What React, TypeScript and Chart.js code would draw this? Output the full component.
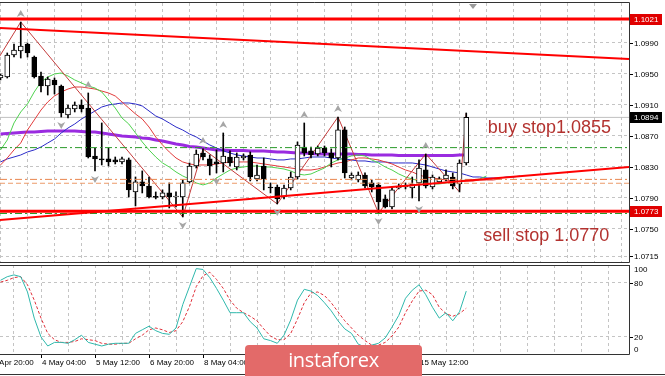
import { useEffect, useRef } from 'react';
import { Chart, registerables } from 'chart.js';

Chart.register(...registerables);

// ---------- data (H4 bars, index 0 = 4 May 04:00) ----------
const FIRST_BAR = -6;

const opens = [
  1.09448, 1.09461, 1.09745, 1.09797, 1.09887, 1.09719, 1.09474, 1.09345, 1.09423, 1.09345,
  1.08971, 1.09048, 1.09100, 1.09061, 1.08442, 1.08404, 1.08404, 1.08391, 1.08365, 1.08391,
  1.07978, 1.08107, 1.08055, 1.07913, 1.07913, 1.07965, 1.07913, 1.07913, 1.08107, 1.08313,
  1.08481, 1.08404, 1.08365, 1.08352, 1.08429, 1.08300, 1.08416, 1.08455, 1.08146, 1.08313,
  1.08042, 1.08042, 1.07913, 1.08029, 1.08171, 1.08558, 1.08507, 1.08468, 1.08545, 1.08481,
  1.08416, 1.08778, 1.08158, 1.08133, 1.08197, 1.08094, 1.08068, 1.07888, 1.07784, 1.08029,
  1.08042, 1.08029, 1.08094, 1.08262, 1.08042, 1.08107, 1.08146, 1.08171, 1.08081, 1.08352,
];
const highs = [
  1.09500, 1.09771, 1.09887, 1.10171, 1.09900, 1.09732, 1.09526, 1.09461, 1.09448, 1.09358,
  1.09100, 1.09139, 1.09165, 1.09255, 1.08545, 1.08868, 1.08545, 1.08429, 1.08429, 1.08416,
  1.08171, 1.08249, 1.08171, 1.07978, 1.08004, 1.08094, 1.07978, 1.08133, 1.08352, 1.08520,
  1.08533, 1.08455, 1.08520, 1.08739, 1.08507, 1.08481, 1.08468, 1.08494, 1.08326, 1.08416,
  1.08094, 1.08068, 1.08068, 1.08236, 1.08623, 1.08868, 1.08558, 1.08571, 1.08571, 1.08533,
  1.08945, 1.08816, 1.08223, 1.08236, 1.08223, 1.08133, 1.08094, 1.07939, 1.08042, 1.08081,
  1.08094, 1.08171, 1.08391, 1.08468, 1.08197, 1.08171, 1.08262, 1.08223, 1.08391, 1.08997,
];
const lows = [
  1.09423, 1.09448, 1.09719, 1.09706, 1.09719, 1.09448, 1.09268, 1.09229, 1.09242, 1.08945,
  1.08932, 1.09010, 1.09010, 1.08416, 1.08249, 1.08326, 1.08313, 1.08339, 1.08339, 1.07913,
  1.07797, 1.07965, 1.07900, 1.07888, 1.07888, 1.07771, 1.07784, 1.07655, 1.08094, 1.08287,
  1.08391, 1.08197, 1.08223, 1.08236, 1.08313, 1.08262, 1.08391, 1.08120, 1.08120, 1.08004,
  1.07965, 1.07823, 1.07888, 1.08004, 1.08146, 1.08442, 1.08416, 1.08442, 1.08442, 1.08300,
  1.08391, 1.08158, 1.08133, 1.08107, 1.08029, 1.07978, 1.07707, 1.07771, 1.07758, 1.08017,
  1.08017, 1.07900, 1.07862, 1.08029, 1.08017, 1.08094, 1.08120, 1.08017, 1.07978, 1.08326,
];
const closes = [
  1.09487, 1.09745, 1.09810, 1.09861, 1.09771, 1.09461, 1.09345, 1.09435, 1.09358, 1.08997,
  1.09061, 1.09100, 1.09048, 1.08429, 1.08404, 1.08391, 1.08365, 1.08365, 1.08404, 1.08004,
  1.08107, 1.08055, 1.07913, 1.07907, 1.07965, 1.07913, 1.07926, 1.08094, 1.08313, 1.08468,
  1.08429, 1.08313, 1.08339, 1.08442, 1.08352, 1.08429, 1.08442, 1.08171, 1.08197, 1.08146,
  1.08029, 1.07888, 1.08029, 1.08171, 1.08584, 1.08481, 1.08455, 1.08545, 1.08481, 1.08416,
  1.08778, 1.08223, 1.08197, 1.08197, 1.08055, 1.08042, 1.07849, 1.07784, 1.08004, 1.08042,
  1.08055, 1.08081, 1.08287, 1.08055, 1.08171, 1.08146, 1.08197, 1.08055, 1.08352, 1.08940,
];

// slow moving average (purple)
const smaPurple = [
  1.08726, 1.08732, 1.08739, 1.08745, 1.08752, 1.08752, 1.08758, 1.08765, 1.08765, 1.08765,
  1.08765, 1.08765, 1.08758, 1.08752, 1.08752, 1.08739, 1.08726, 1.08713, 1.08700, 1.08694,
  1.08687, 1.08674, 1.08668, 1.08648, 1.08635, 1.08616, 1.08597, 1.08584, 1.08565, 1.08558,
  1.08545, 1.08532, 1.08520, 1.08520, 1.08513, 1.08513, 1.08513, 1.08506, 1.08506, 1.08506,
  1.08500, 1.08494, 1.08494, 1.08487, 1.08481, 1.08481, 1.08474, 1.08468, 1.08468, 1.08468,
  1.08468, 1.08468, 1.08468, 1.08461, 1.08461, 1.08455, 1.08455, 1.08455, 1.08455, 1.08448,
  1.08448, 1.08448, 1.08448, 1.08448, 1.08448, 1.08448, 1.08448, 1.08448, 1.08455, 1.08455,
];
// Alligator jaw (blue), bars -6 .. 71
const jawBlue = [
  1.08365, 1.08404, 1.08429, 1.08455, 1.08494, 1.08520, 1.08558, 1.08610, 1.08661, 1.08739,
  1.08803, 1.08855, 1.08919, 1.08971, 1.09023, 1.09074, 1.09100, 1.09113, 1.09126, 1.09126,
  1.09113, 1.09087, 1.09023, 1.08958, 1.08919, 1.08868, 1.08816, 1.08777, 1.08726, 1.08687,
  1.08635, 1.08584, 1.08545, 1.08507, 1.08481, 1.08455, 1.08442, 1.08429, 1.08416, 1.08416,
  1.08404, 1.08391, 1.08391, 1.08404, 1.08404, 1.08416, 1.08429, 1.08429, 1.08429, 1.08416,
  1.08404, 1.08404, 1.08391, 1.08378, 1.08378, 1.08365, 1.08365, 1.08365, 1.08352, 1.08352,
  1.08352, 1.08352, 1.08339, 1.08326, 1.08300, 1.08274, 1.08249, 1.08236, 1.08223, 1.08197,
  1.08171, 1.08171, 1.08158, 1.08158, 1.08158, 1.08171, 1.08171, 1.08184,
];
// Alligator teeth (red), bars -6 .. 68
const teethRed = [
  1.08326, 1.08416, 1.08520, 1.08610, 1.08777, 1.08906, 1.09035, 1.09139, 1.09216, 1.09268,
  1.09306, 1.09332, 1.09332, 1.09319, 1.09306, 1.09280, 1.09255, 1.09216, 1.09139, 1.09061,
  1.08984, 1.08919, 1.08816, 1.08687, 1.08584, 1.08494, 1.08416, 1.08365, 1.08339, 1.08326,
  1.08326, 1.08326, 1.08339, 1.08352, 1.08365, 1.08365, 1.08365, 1.08365, 1.08352, 1.08339,
  1.08326, 1.08313, 1.08300, 1.08287, 1.08274, 1.08261, 1.08261, 1.08274, 1.08300, 1.08326,
  1.08352, 1.08365, 1.08391, 1.08416, 1.08416, 1.08404, 1.08391, 1.08365, 1.08339, 1.08300,
  1.08261, 1.08236, 1.08197, 1.08171, 1.08158, 1.08145, 1.08132, 1.08119, 1.08119, 1.08119,
  1.08119, 1.08132, 1.08132, 1.08132, 1.08145,
];
// Alligator lips (green), bars -6 .. 66
const lipsGreen = [
  1.08519, 1.08648, 1.08868, 1.09010, 1.09113, 1.09268, 1.09397, 1.09461, 1.09500, 1.09513,
  1.09474, 1.09423, 1.09384, 1.09345, 1.09319, 1.09268, 1.09165, 1.09061, 1.08932, 1.08855,
  1.08739, 1.08623, 1.08520, 1.08429, 1.08352, 1.08300, 1.08236, 1.08184, 1.08145, 1.08094,
  1.08068, 1.08094, 1.08158, 1.08210, 1.08261, 1.08287, 1.08300, 1.08313, 1.08313, 1.08300,
  1.08300, 1.08287, 1.08274, 1.08249, 1.08210, 1.08197, 1.08210, 1.08249, 1.08287, 1.08352,
  1.08391, 1.08416, 1.08442, 1.08455, 1.08442, 1.08391, 1.08352, 1.08300, 1.08261, 1.08210,
  1.08171, 1.08145, 1.08119, 1.08094, 1.08081, 1.08081, 1.08094, 1.08107, 1.08119, 1.08132,
  1.08132, 1.08145, 1.08184,
];

const zigzagBars = [-10, -3, 21, 24, 35, 44, 50, 57, 62, 63];
const zigzagPrices = [1.0918, 1.10171, 1.07655, 1.08533, 1.07823, 1.08945, 1.07707, 1.08468, 1.07978, 1.08997];

const fractalUpBars = [-3, 7, 24, 27, 39, 44, 57];
const fractalDownBars = [3, 8, 21, 26, 35, 50, 56];

const stochMain = [
  83, 87, 89, 87, 70, 41, 20, 10, 14, 14,
  13, 17, 22, 14, 12, 10, 12, 13, 13, 13,
  24, 28, 32, 27, 24, 23, 30, 56, 76, 96,
  95, 86, 74, 61, 47, 47, 47, 37, 30, 18,
  16, 13, 22, 39, 61, 73, 71, 66, 58, 49,
  38, 29, 24, 12, 9, 11, 13, 19, 31, 44,
  63, 72, 78, 67, 53, 41, 47, 38, 48, 71,
];
const stochSignal = [
  81, 83, 86, 87, 78, 61, 41, 24, 17, 14,
  14, 15, 18, 17, 16, 13, 12, 12, 13, 13,
  18, 22, 28, 30, 28, 25, 27, 37, 54, 76,
  88, 92, 84, 74, 61, 52, 47, 43, 38, 29,
  21, 17, 17, 24, 40, 58, 69, 70, 66, 58,
  48, 38, 30, 22, 16, 11, 11, 14, 21, 31,
  47, 60, 71, 72, 67, 53, 46, 43, 46, 52,
];

// levels and trend lines
const resistanceLevel = 1.1021;
const supportLevel = 1.0773;
const bidPrice = 1.0894;
const buyStopLevel = 1.0855;
const sellStopLevel = 1.0770;
const orangeLevels = [1.0814, 1.0809];
const upperTrendBars = [-6.074, 87.11];
const upperTrendPrices = [1.10094, 1.09694];
const lowerTrendBars = [-6.074, 87.11];
const lowerTrendPrices = [1.07616, 1.0830];

// axis labels
const priceTicks = [1.099, 1.095, 1.091, 1.087, 1.083, 1.079, 1.075, 1.0715];
const stochGridTicks = [80, 20];
const dateBars = [-8, 0, 8, 16, 24, 32, 40, 48, 56];
const dateLabels = ['30 Apr 20:00', '4 May 04:00', '5 May 12:00', '6 May 20:00', '8 May 04:00', '11 May 12:00', '12 May 20:00', '14 May 04:00', '15 May 12:00'];

// text annotations (bar, baseline price)
const buyText = 'buy stop1.0855';
const buyTextBar = 66.2;
const buyTextPrice = 1.08739;
const sellText = 'sell stop 1.0770';
const sellTextBar = 65.5;
const sellTextPrice = 1.07345;
const shiftMarkerBar = 64;

// ---------- view ----------
const X_MIN = -6.074;
const X_MAX = 87.11;
const MAIN_MIN = 1.07074;
const MAIN_MAX = 1.10416;
const xGridBars = Array.from({ length: 23 }, (_, k) => -4 + 4 * k);
const AXIS_FONT = '8px "Liberation Sans", Arial, sans-serif';

const toPts = (arr: number[]) => arr.map((v, k) => ({ x: FIRST_BAR + k, y: v }));
const pairPts = (bars: number[], vals: number[]) => bars.map((b, k) => ({ x: b, y: vals[k] }));
const hPts = (v: number) => [{ x: X_MIN, y: v }, { x: X_MAX, y: v }];

const lineDs = (data: any[], color: string, width: number, order: number, dash: number[] = []) => ({
  type: 'line',
  data,
  borderColor: color,
  borderWidth: width,
  borderDash: dash,
  pointRadius: 0,
  tension: 0,
  fill: false,
  order,
});

const xScale = () => ({
  type: 'linear',
  min: X_MIN,
  max: X_MAX,
  offset: false,
  afterBuildTicks: (ax: any) => {
    ax.ticks = xGridBars.map((v) => ({ value: v }));
  },
  afterFit: (s: any) => {
    s.height = 0;
  },
  ticks: { display: false },
  grid: { color: '#c4c4c4', lineWidth: 1, drawTicks: false },
  border: { display: false, dash: [3, 3] },
});

export default function App() {
  const mainRef = useRef<HTMLCanvasElement>(null);
  const stochRef = useRef<HTMLCanvasElement>(null);

  useEffect(() => {
    const bodyColors = opens.map((o, k) => (closes[k] - o > 0.00008 ? '#ffffff' : '#000000'));

    const mainPlugin = {
      id: 'mainDecor',
      afterDraw(chart: any) {
        const { ctx, chartArea: a, scales } = chart;
        const x = scales.x;
        const y = scales.y;
        ctx.save();
        // fractal arrows
        const arrow = (cx: number, cy: number, up: boolean) => {
          ctx.beginPath();
          if (up) {
            ctx.moveTo(cx, cy - 4);
            ctx.lineTo(cx + 4, cy + 3);
            ctx.lineTo(cx, cy + 1);
            ctx.lineTo(cx - 4, cy + 3);
          } else {
            ctx.moveTo(cx, cy + 4);
            ctx.lineTo(cx + 4, cy - 3);
            ctx.lineTo(cx, cy - 1);
            ctx.lineTo(cx - 4, cy - 3);
          }
          ctx.closePath();
          ctx.fillStyle = '#a6a6a6';
          ctx.fill();
        };
        fractalUpBars.forEach((b) => arrow(x.getPixelForValue(b), y.getPixelForValue(highs[b - FIRST_BAR]) - 8, true));
        fractalDownBars.forEach((b) => arrow(x.getPixelForValue(b), y.getPixelForValue(lows[b - FIRST_BAR]) + 8, false));

        // shift marker
        const sx = x.getPixelForValue(shiftMarkerBar);
        ctx.beginPath();
        ctx.moveTo(sx - 4, a.top + 1);
        ctx.lineTo(sx + 4, a.top + 1);
        ctx.lineTo(sx, a.top + 6);
        ctx.closePath();
        ctx.fillStyle = '#9a9a9a';
        ctx.fill();

        // text annotations
        ctx.font = '18px "Liberation Sans", Arial, sans-serif';
        ctx.fillStyle = '#b3322f';
        ctx.textBaseline = 'alphabetic';
        ctx.textAlign = 'left';
        ctx.fillText(buyText, x.getPixelForValue(buyTextBar), y.getPixelForValue(buyTextPrice));
        ctx.fillText(sellText, x.getPixelForValue(sellTextBar), y.getPixelForValue(sellTextPrice));

        // borders
        ctx.strokeStyle = '#333333';
        ctx.lineWidth = 1;
        ctx.beginPath();
        ctx.moveTo(0, a.top - 0.5);
        ctx.lineTo(a.right + 0.5, a.top - 0.5);
        ctx.moveTo(a.right + 0.5, a.top - 0.5);
        ctx.lineTo(a.right + 0.5, a.bottom + 0.5);
        ctx.moveTo(0, a.bottom + 0.5);
        ctx.lineTo(a.right + 0.5, a.bottom + 0.5);
        ctx.stroke();

        // price axis
        ctx.font = AXIS_FONT;
        ctx.textBaseline = 'middle';
        ctx.fillStyle = '#000000';
        priceTicks.forEach((t) => {
          const py = Math.round(y.getPixelForValue(t));
          ctx.fillRect(a.right + 1, py, 3, 1);
          ctx.fillText(t.toFixed(4), a.right + 5, py + 0.5);
        });
        const box = (v: number, bg: string) => {
          const py = Math.round(y.getPixelForValue(v));
          ctx.fillStyle = bg;
          ctx.fillRect(a.right + 1, py - 5, 32, 11);
          ctx.fillStyle = '#ffffff';
          ctx.fillText(v.toFixed(4), a.right + 5, py + 0.5);
        };
        box(resistanceLevel, '#e00000');
        box(bidPrice, '#000000');
        box(supportLevel, '#e00000');
        ctx.restore();
      },
    };

    const main = new Chart(mainRef.current as HTMLCanvasElement, {
      type: 'line',
      data: {
        datasets: [
          lineDs(pairPts(upperTrendBars, upperTrendPrices), '#ff0000', 2, 0),
          lineDs(pairPts(lowerTrendBars, lowerTrendPrices), '#ff0000', 2, 0),
          lineDs(hPts(resistanceLevel), '#ff0000', 3, 0),
          lineDs(hPts(supportLevel), '#ff0000', 3, 0),
          lineDs(hPts(buyStopLevel), '#2a9a2a', 1, 1, [7, 3, 2, 3]),
          lineDs(hPts(sellStopLevel), '#2a9a2a', 1, 1, [7, 3, 2, 3]),
          lineDs(hPts(orangeLevels[0]), '#e9864e', 1, 1, [7, 3, 2, 3]),
          lineDs(hPts(orangeLevels[1]), '#ec9a6a', 1, 1, [5, 3]),
          {
            type: 'bar',
            data: opens.map((o, k) => ({ x: FIRST_BAR + k, y: [o, closes[k]] })),
            backgroundColor: bodyColors,
            borderColor: '#000000',
            borderWidth: 1,
            borderSkipped: false,
            barThickness: 5,
            minBarLength: 1,
            grouped: false,
            order: 3,
          },
          {
            type: 'bar',
            data: lows.map((l, k) => ({ x: FIRST_BAR + k, y: [l, highs[k]] })),
            backgroundColor: '#000000',
            borderWidth: 0,
            barThickness: 1,
            grouped: false,
            order: 4,
          },
          lineDs(pairPts(zigzagBars, zigzagPrices), '#c43c3c', 1, 5),
          lineDs(toPts(lipsGreen), '#4fd24f', 1, 6),
          lineDs(toPts(teethRed), '#e23c3c', 1, 7),
          lineDs(toPts(jawBlue), '#2b2bc8', 1, 8),
          lineDs(toPts(smaPurple), '#9a2be0', 3, 9),
          lineDs(hPts(bidPrice), '#c0c0c0', 1, 10),
        ],
      } as any,
      options: {
        responsive: false,
        animation: false,
        devicePixelRatio: 1,
        events: [],
        layout: { padding: { top: 3, bottom: 2, left: 0, right: 0 } },
        plugins: { legend: { display: false }, tooltip: { enabled: false } },
        scales: {
          x: xScale(),
          y: {
            type: 'linear',
            position: 'right',
            min: MAIN_MIN,
            max: MAIN_MAX,
            afterBuildTicks: (ax: any) => {
              ax.ticks = priceTicks.map((v) => ({ value: v }));
            },
            afterFit: (s: any) => {
              s.width = 36;
            },
            ticks: { display: false },
            grid: { color: '#c4c4c4', lineWidth: 1, drawTicks: false },
            border: { display: false, dash: [3, 3] },
          },
        },
      } as any,
      plugins: [mainPlugin],
    });

    const stochPlugin = {
      id: 'stochDecor',
      afterDraw(chart: any) {
        const { ctx, chartArea: a, scales, width } = chart;
        const x = scales.x;
        const y = scales.y;
        ctx.save();
        ctx.strokeStyle = '#333333';
        ctx.lineWidth = 1;
        ctx.beginPath();
        ctx.moveTo(0, a.top + 0.5);
        ctx.lineTo(a.right + 0.5, a.top + 0.5);
        ctx.moveTo(a.right + 0.5, a.top);
        ctx.lineTo(a.right + 0.5, a.bottom + 0.5);
        ctx.moveTo(0, a.bottom + 0.5);
        ctx.lineTo(a.right + 0.5, a.bottom + 0.5);
        ctx.moveTo(0, chart.height - 1.5);
        ctx.lineTo(width, chart.height - 1.5);
        ctx.stroke();

        ctx.font = AXIS_FONT;
        ctx.fillStyle = '#000000';
        ctx.textBaseline = 'middle';
        ctx.textAlign = 'left';
        ctx.fillText('100', a.right + 5, y.getPixelForValue(100) + 5);
        stochGridTicks.forEach((t) => {
          const py = Math.round(y.getPixelForValue(t));
          ctx.fillRect(a.right + 1, py, 3, 1);
          ctx.fillText(String(t), a.right + 5, py + 0.5);
        });
        ctx.fillText('0', a.right + 5, y.getPixelForValue(0) - 5);

        dateBars.forEach((b, k) => {
          const px = Math.round(x.getPixelForValue(b));
          ctx.fillRect(px, a.bottom + 1, 1, 3);
          ctx.fillText(dateLabels[k], px + 1, a.bottom + 9);
        });
        ctx.restore();
      },
    };

    const stoch = new Chart(stochRef.current as HTMLCanvasElement, {
      type: 'line',
      data: {
        datasets: [
          lineDs(toPts(stochMain), '#2fb8ac', 1, 0),
          lineDs(toPts(stochSignal), '#e0303a', 1, 1, [3, 2]),
        ],
      } as any,
      options: {
        responsive: false,
        animation: false,
        devicePixelRatio: 1,
        events: [],
        layout: { padding: { top: 1, bottom: 22, left: 0, right: 0 } },
        plugins: { legend: { display: false }, tooltip: { enabled: false } },
        scales: {
          x: xScale(),
          y: {
            type: 'linear',
            position: 'right',
            min: 1.1,
            max: 100,
            afterBuildTicks: (ax: any) => {
              ax.ticks = stochGridTicks.map((v) => ({ value: v }));
            },
            afterFit: (s: any) => {
              s.width = 36;
            },
            ticks: { display: false },
            grid: { color: '#c4c4c4', lineWidth: 1, drawTicks: false },
            border: { display: false, dash: [3, 3] },
          },
        },
      } as any,
      plugins: [stochPlugin],
    });

    return () => {
      main.destroy();
      stoch.destroy();
    };
  }, []);

  return (
    <div style={{ position: 'fixed', left: 0, top: 0, width: 665, height: 376, background: '#ffffff', overflow: 'hidden' }}>
      <canvas ref={mainRef} width={665} height={264} style={{ position: 'absolute', left: 0, top: 0 }} />
      <canvas ref={stochRef} width={665} height={112} style={{ position: 'absolute', left: 0, top: 264 }} />
      <div
        style={{
          position: 'absolute',
          left: 245,
          top: 345,
          width: 177,
          height: 31,
          background: '#e36a69',
          borderRadius: '4px 4px 0 0',
          color: '#ffffff',
          font: '20px "Open Sans", "Liberation Sans", sans-serif',
          lineHeight: '29px',
          textAlign: 'center',
          letterSpacing: '-0.3px',
        }}
      >
        instaforex
      </div>
    </div>
  );
}
